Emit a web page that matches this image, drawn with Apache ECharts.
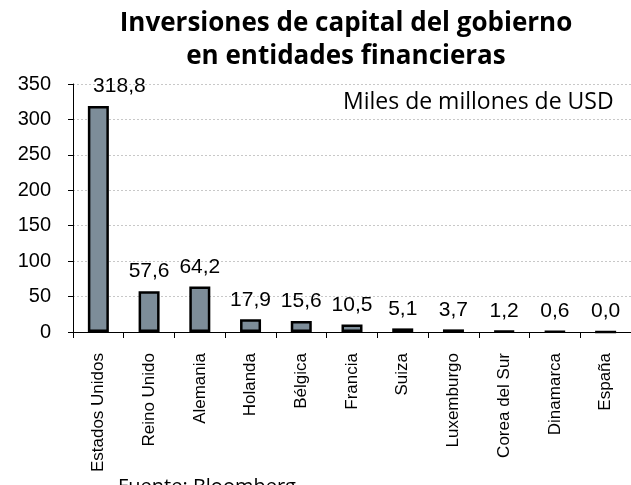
<!DOCTYPE html>
<html>
<head>
<meta charset="utf-8">
<script src="https://cdn.jsdelivr.net/npm/echarts@6/dist/echarts.min.js"></script>
<style>
html, body { margin: 0; padding: 0; background: #fff; }
#chart { width: 631px; height: 485px; }
</style>
</head>
<body>
<div id="chart"></div>
<script>
// datos
var paises = ['Estados Unidos', 'Reino Unido', 'Alemania', 'Holanda', 'Bélgica', 'Francia',
    'Suiza', 'Luxemburgo', 'Corea del Sur', 'Dinamarca', 'España'];
var inversiones = [318.8, 57.6, 64.2, 17.9, 15.6, 10.5, 5.1, 3.7, 1.2, 0.6, 0.0];
var ticksY = [0, 50, 100, 150, 200, 250, 300, 350];

var myChart = echarts.init(document.getElementById('chart'));

// la etiqueta de la primera barra va desplazada a la derecha, como en el original
var datosBarras = inversiones.map(function (v, i) {
    if (i === 0) {
        return { value: v, label: { offset: [21, 0] } };
    }
    return v;
});

var option = {
    animation: false,
    grid: {
        left: 73,
        top: 84,
        width: 564,
        height: 248
    },
    graphic: [
        {
            type: 'text',
            x: 346,
            y: 7,
            style: {
                text: 'Inversiones de capital del gobierno\nen entidades financieras',
                font: 'bold 26px "Open Sans"',
                lineHeight: 33,
                align: 'center',
                fill: '#000'
            }
        },
        {
            type: 'text',
            left: 343,
            top: 91,
            style: {
                text: 'Miles de millones de USD',
                font: '23px "Open Sans"',
                fill: '#000'
            }
        },
        {
            type: 'text',
            left: 118,
            top: 477,
            style: {
                text: 'Fuente: Bloomberg',
                font: '20px "Open Sans"',
                fill: '#000'
            }
        }
    ],
    xAxis: {
        type: 'category',
        data: paises,
        axisLine: { lineStyle: { color: '#000', width: 1 } },
        axisTick: { show: true, length: 6, lineStyle: { color: '#000' } },
        axisLabel: {
            rotate: 90,
            margin: 21,
            fontFamily: 'Liberation Sans',
            fontSize: 17,
            color: '#000'
        }
    },
    yAxis: {
        type: 'value',
        min: 0,
        max: 350,
        interval: 50,
        axisLine: { show: true, lineStyle: { color: '#000' } },
        axisTick: { show: true, length: 5, lineStyle: { color: '#000' } },
        axisLabel: {
            margin: 22,
            fontFamily: 'Liberation Sans',
            fontSize: 20,
            color: '#000',
            formatter: function (v) { return ticksY.indexOf(v) >= 0 ? String(v) : ''; }
        },
        splitLine: { lineStyle: { color: '#c8c8c8', type: [2, 2] } }
    },
    series: [
        {
            type: 'bar',
            data: datosBarras,
            barWidth: 21,
            itemStyle: {
                color: '#7d8d99',
                borderColor: '#000',
                borderWidth: 2.5
            },
            label: {
                show: true,
                position: 'top',
                distance: 9,
                fontFamily: 'Liberation Sans',
                fontSize: 21,
                color: '#000',
                formatter: function (p) { return p.value.toFixed(1).replace('.', ','); }
            }
        }
    ]
};

myChart.setOption(option);
</script>
</body>
</html>
